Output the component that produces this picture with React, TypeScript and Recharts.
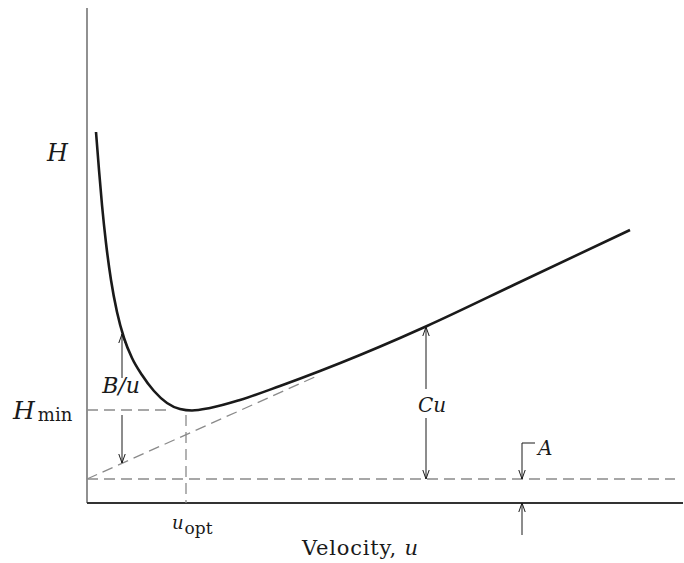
import { ComposedChart, Line, XAxis, YAxis, ReferenceLine, ReferenceDot } from 'recharts'

// plate height H against carrier velocity u (van Deemter sketch)
const curveU = [0.09, 0.12, 0.15, 0.19, 0.24, 0.3, 0.37, 0.45, 0.55, 0.67, 0.8, 0.93, 1.05, 1.23, 1.53, 1.93, 2.33, 2.73, 3.13, 3.4, 4.33, 5.43]
const curveH = [3.71, 3.33, 2.98, 2.6, 2.23, 1.91, 1.65, 1.45, 1.28, 1.12, 1.0, 0.94, 0.925, 0.95, 1.03, 1.17, 1.32, 1.48, 1.65, 1.77, 2.21, 2.73]
const curve = curveU.map((u, i) => ({ u, H: curveH[i] }))

const aLevel = [{ u: 0, H: 0.24 }, { u: 5.88, H: 0.24 }]
const cuLine = [{ u: 0, H: 0.24 }, { u: 2.3, H: 1.27 }]
const hMinLine = [{ u: 0, H: 0.93 }, { u: 0.83, H: 0.93 }]
const uOptLine = [{ u: 0.99, H: 0.88 }, { u: 0.99, H: 0 }]

type Pt = { u: number; H: number; tip?: 'up' | 'down' }
const arrows: Pt[][] = [
  [{ u: 0.35, H: 1.25 }, { u: 0.35, H: 1.69, tip: 'up' }],
  [{ u: 0.35, H: 0.88 }, { u: 0.35, H: 0.4, tip: 'down' }],
  [{ u: 3.39, H: 1.14 }, { u: 3.39, H: 1.76, tip: 'up' }],
  [{ u: 3.39, H: 0.85 }, { u: 3.39, H: 0.24, tip: 'down' }],
  [{ u: 4.48, H: 0.6 }, { u: 4.35, H: 0.6 }, { u: 4.35, H: 0.24, tip: 'down' }],
  [{ u: 4.35, H: -0.32 }, { u: 4.35, H: 0, tip: 'up' }],
]

const INK = '#1a1a1a'
const DASH = '#8a8a8a'
const FONT = '"DejaVu Serif", serif'

function Tip(p: any) {
  const { cx, cy, payload, index } = p
  if (!payload || !payload.tip) return <g key={index} />
  const d = payload.tip === 'up' ? 9 : -9
  return (
    <path
      key={index}
      d={`M${cx - 3.2},${cy + d} L${cx},${cy} L${cx + 3.2},${cy + d}`}
      fill="none"
      stroke={INK}
      strokeWidth={1}
    />
  )
}

function label(content: (x: number, y: number) => any) {
  return (p: any) => content(p.cx, p.cy)
}

export default function App() {
  const dashed = { type: 'linear' as const, stroke: DASH, strokeWidth: 1.3, strokeDasharray: '11 6', dot: false, activeDot: false, isAnimationActive: false }
  return (
    <div style={{ position: 'absolute', left: 0, top: 0, background: '#fff' }}>
      <ComposedChart width={684} height={563} margin={{ top: 0, right: 0, bottom: 0, left: 0 }}>
        <XAxis type="number" dataKey="u" domain={[-0.87, 5.97]} hide />
        <YAxis type="number" dataKey="H" domain={[-0.6, 5.03]} hide />

        {/* axes */}
        <ReferenceLine segment={[{ x: 0, y: 0 }, { x: 0, y: 4.95 }]} stroke="#555" strokeWidth={1.3} />
        <ReferenceLine segment={[{ x: 0, y: 0 }, { x: 5.96, y: 0 }]} stroke="#333" strokeWidth={2} />

        {/* construction lines */}
        <Line data={aLevel} dataKey="H" {...dashed} />
        <Line data={cuLine} dataKey="H" {...dashed} />
        <Line data={hMinLine} dataKey="H" {...dashed} />
        <Line data={uOptLine} dataKey="H" {...dashed} />

        {arrows.map((a, i) => (
          <Line key={i} data={a} dataKey="H" type="linear" stroke={INK} strokeWidth={1} dot={Tip} activeDot={false} isAnimationActive={false} />
        ))}

        <Line data={curve} dataKey="H" type="monotone" stroke="#1a1a1a" strokeWidth={2.6} dot={false} activeDot={false} isAnimationActive={false} />

        {/* annotations */}
        <ReferenceDot x={-0.4} y={3.42} r={0} shape={label((x, y) => (
          <text x={x} y={y} fontFamily={FONT} fontStyle="italic" fontSize={24} fill={INK}>H</text>
        ))} />
        <ReferenceDot x={-0.74} y={0.84} r={0} shape={label((x, y) => (
          <text x={x} y={y} fontFamily={FONT} fill={INK}>
            <tspan fontStyle="italic" fontSize={25}>H</tspan>
            <tspan fontSize={18} dx={3} dy={2}>min</tspan>
          </text>
        ))} />
        <ReferenceDot x={0.34} y={1.1} r={0} shape={label((x, y) => (
          <text x={x} y={y} textAnchor="middle" fontFamily={FONT} fontStyle="italic" fontSize={22} fill={INK}>B/u</text>
        ))} />
        <ReferenceDot x={3.45} y={0.91} r={0} shape={label((x, y) => (
          <text x={x} y={y} textAnchor="middle" fontFamily={FONT} fontStyle="italic" fontSize={20} fill={INK}>Cu</text>
        ))} />
        <ReferenceDot x={4.51} y={0.48} r={0} shape={label((x, y) => (
          <text x={x} y={y} fontFamily={FONT} fontStyle="italic" fontSize={20} fill={INK}>A</text>
        ))} />
        <ReferenceDot x={0.85} y={-0.26} r={0} shape={label((x, y) => (
          <text x={x} y={y} fontFamily={FONT} fill={INK}>
            <tspan fontStyle="italic" fontSize={18}>u</tspan>
            <tspan fontSize={17} dx={1} dy={5}>opt</tspan>
          </text>
        ))} />
        <ReferenceDot x={2.15} y={-0.52} r={0} shape={label((x, y) => (
          <text x={x} y={y} fontFamily={FONT} fontSize={21} letterSpacing={0.8} fill={INK}>
            Velocity, <tspan fontStyle="italic">u</tspan>
          </text>
        ))} />
      </ComposedChart>
    </div>
  )
}
